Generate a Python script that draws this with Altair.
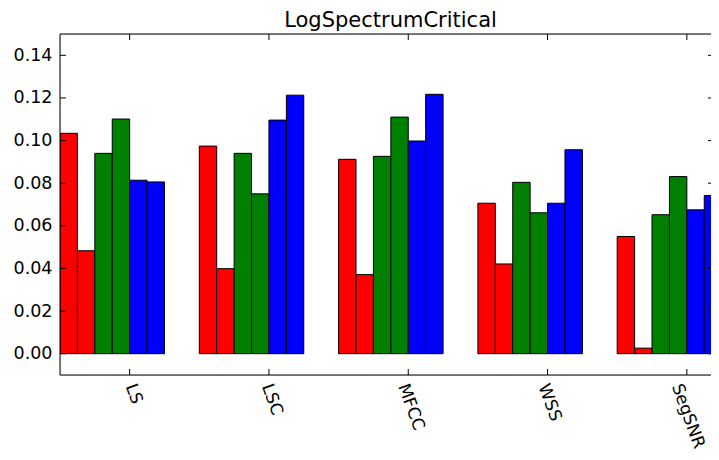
import altair as alt
import pandas as pd

title_text = "LogSpectrumCritical"
categories = ["LS", "LSC", "MFCC", "WSS", "SegSNR"]
series = ["red_a", "red_b", "green_a", "green_b", "blue_a", "blue_b"]
red_a = [0.1034, 0.0974, 0.0912, 0.0706, 0.0550]
red_b = [0.0483, 0.0399, 0.0371, 0.0421, 0.0026]
green_a = [0.0940, 0.0940, 0.0926, 0.0804, 0.0652]
green_b = [0.1101, 0.0750, 0.1110, 0.0661, 0.0831]
blue_a = [0.0814, 0.1096, 0.0998, 0.0706, 0.0675]
blue_b = [0.0806, 0.1213, 0.1217, 0.0957, 0.0742]
colors = ["#ff0000", "#ff0000", "#008000", "#008000", "#0000ff", "#0000ff"]
y_ticks = [0.00, 0.02, 0.04, 0.06, 0.08, 0.10, 0.12, 0.14]

rows = []
for si, (name, vals) in enumerate(zip(series, [red_a, red_b, green_a, green_b, blue_a, blue_b])):
    for ci, (cat, v) in enumerate(zip(categories, vals)):
        rows.append({"category": cat, "cat_idx": ci, "series": name, "ser_idx": si, "value": v})
df = pd.DataFrame(rows)

W, H = 651, 341
BAR = 0.125
XMAX = W / 139.3
FONT = "DejaVu Sans"
TICK = 6

x_tick_pos = [i + 0.5 for i in range(len(categories))]
xtick_df = pd.DataFrame({"pos": x_tick_pos})
ytick_df = pd.DataFrame({"v": y_ticks})
one = pd.DataFrame({"a": [0]})

xscale = alt.Scale(domain=[0, XMAX], nice=False, zero=False)
yscale = alt.Scale(domain=[-0.01, 0.15], nice=False, zero=False)

label_arr = "[" + ",".join("'" + c + "'" for c in categories) + "]"
xaxis = alt.Axis(
    values=x_tick_pos,
    labelExpr=f"{label_arr}[round(datum.value - 0.5)]",
    labelAngle=70, labelAlign="left", labelBaseline="middle",
    labelPadding=9,
    labelOffset={"condition": [
        {"test": "datum.value < 1", "value": 0},
        {"test": "datum.value < 2", "value": -3},
        {"test": "datum.value < 3", "value": -6},
        {"test": "datum.value < 4", "value": -5},
    ], "value": -11},
    labelFont=FONT, labelFontSize=17, labelColor="black",
    ticks=False, domain=False, grid=False, labelFlush=False, labelOverlap=False,
)
yaxis = alt.Axis(
    values=y_ticks, format=".2f",
    labelFont=FONT, labelFontSize=17.5, labelColor="black", labelPadding=8,
    ticks=False, domain=False, grid=False, labelFlush=False, labelOverlap=False,
)

bars = alt.Chart(df).transform_calculate(
    x0=f"datum.cat_idx + datum.ser_idx * {BAR}",
    x1=f"datum.cat_idx + (datum.ser_idx + 1) * {BAR}",
).mark_bar(stroke="black", strokeWidth=1, clip=True).encode(
    x=alt.X("x0:Q", scale=xscale, axis=xaxis, title=None),
    x2="x1:Q",
    y=alt.Y("value:Q", scale=yscale, axis=yaxis, title=None),
    y2=alt.datum(0),
    color=alt.Color("series:N", scale=alt.Scale(domain=series, range=colors), legend=None),
)

rule = dict(color="black", strokeWidth=1)
xt_bottom = alt.Chart(xtick_df).mark_rule(**rule).encode(
    x=alt.X("pos:Q", scale=xscale, title=None), y=alt.value(H), y2=alt.value(H - TICK))
xt_top = alt.Chart(xtick_df).mark_rule(**rule).encode(
    x=alt.X("pos:Q", scale=xscale, title=None), y=alt.value(0), y2=alt.value(TICK))
yt_left = alt.Chart(ytick_df).mark_rule(**rule).encode(
    y=alt.Y("v:Q", scale=yscale, title=None), x=alt.value(0), x2=alt.value(TICK))
yt_right = alt.Chart(ytick_df).mark_rule(**rule).encode(
    y=alt.Y("v:Q", scale=yscale, title=None), x=alt.value(W - 3), x2=alt.value(W))

spine_left = alt.Chart(one).mark_rule(**rule).encode(x=alt.value(0), y=alt.value(0), y2=alt.value(H))
spine_top = alt.Chart(one).mark_rule(**rule).encode(x=alt.value(0), x2=alt.value(W), y=alt.value(0))
spine_bottom = alt.Chart(one).mark_rule(**rule).encode(x=alt.value(0), x2=alt.value(W), y=alt.value(H))

chart = alt.layer(
    bars, xt_bottom, xt_top, yt_left, yt_right, spine_left, spine_top, spine_bottom
).properties(
    width=W, height=H,
    title=alt.Title(title_text, font=FONT, fontSize=21, fontWeight="normal", color="black",
                    anchor="middle", baseline="alphabetic", offset=-14, dx=5),
    autosize=alt.AutoSizeParams(type="none"),
    padding={"left": 52, "top": 26, "right": 0, "bottom": 77},
).configure_view(stroke=None).configure(background="white")

chart.save("out.html", embed_options={"renderer": "svg", "actions": False})
